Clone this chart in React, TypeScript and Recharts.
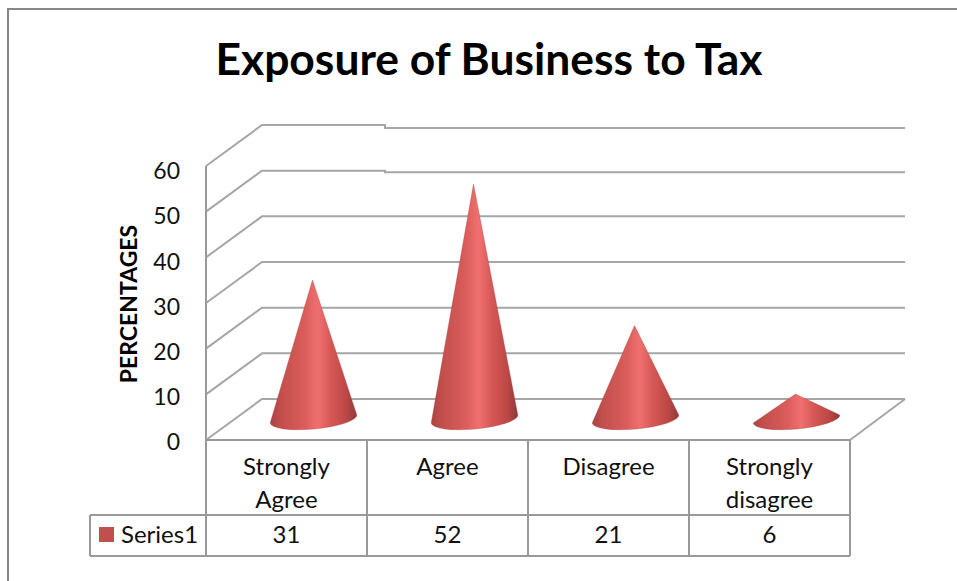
import React from 'react';
import { BarChart, Bar, XAxis, YAxis, CartesianGrid } from 'recharts';

const categories = ['Strongly Agree', 'Agree', 'Disagree', 'Strongly disagree'];
const values = [31, 52, 21, 6];
const yTicks = [0, 10, 20, 30, 40, 50, 60];
const titleText = 'Exposure of Business to Tax';
const yLabelText = 'PERCENTAGES';
const seriesName = 'Series1';

const FONT = 'Lato, "Open Sans", sans-serif';
const LINE = '#999999';
const GRID = '#a6a6a6';

const W = 957;
const H = 581;
const PLOT_LEFT = 206;
const PLOT_RIGHT = 850;
const PLOT_TOP = 166;
const PLOT_BOTTOM = 440;
// Depth of the 3D box: how far the back wall sits from the front plane.
const DEPTH_X = 56;
const DEPTH_Y = 41;
// Table rows under the plot.
const ROW_1 = 515;
const ROW_2 = 556;
const TABLE_LEFT = 90;
// The two upper back-wall lines drop slightly partway across.
const STEP_X = 385;

const rows = categories.map((name, i) => ({ name, value: values[i] }));

// One gridline: a slanted run along the side wall, then straight across the back wall.
function WallLine(props: any) {
  const { x1, x2, y1 } = props;
  const isFloor = Math.abs(y1 - PLOT_BOTTOM) < 1;
  const bx = x1 + DEPTH_X;
  const by = y1 - DEPTH_Y;
  const fromTop = Math.round((y1 - PLOT_TOP) / ((PLOT_BOTTOM - PLOT_TOP) / 6));
  const step = fromTop === 0 ? 3 : fromTop === 1 ? 1.5 : 0;
  return (
    <g>
      <path
        d={`M${x1} ${y1}L${bx} ${by}L${STEP_X} ${by}V${by + step}L${x2 + DEPTH_X - 1} ${by + step}`}
        fill="none"
        stroke={GRID}
        strokeWidth={2}
      />
      {isFloor && <path d={`M${x2} ${y1}L${x2 + DEPTH_X - 1} ${by}`} fill="none" stroke={GRID} strokeWidth={2} />}
    </g>
  );
}

// Value axis label; the text column runs slightly tighter than the axis itself.
function YTick(props: any) {
  const { x, y, payload } = props;
  return (
    <text x={x} y={y + 10 + (PLOT_BOTTOM - y) * 0.012} textAnchor="end" fontFamily={FONT} fontSize={23} fill="#111">
      {payload.value}
    </text>
  );
}

// Category cell of the data table, with the value row underneath it.
function TableTick(props: any) {
  const { x, payload, index } = props;
  const words = String(payload.value).split(' ');
  const half = (PLOT_RIGHT - PLOT_LEFT) / categories.length / 2;
  return (
    <g fontFamily={FONT} fontSize={24} fill="#111" textAnchor="middle">
      {words.map((w, i) => (
        <text key={w} x={x} y={475 + i * 33}>{w}</text>
      ))}
      <text x={x} y={543}>{values[index]}</text>
      <path d={`M${x + half} ${PLOT_BOTTOM}V${ROW_2}`} stroke={LINE} strokeWidth={2} fill="none" />
    </g>
  );
}

// Cone standing on the middle of the floor, tilted base, apex at the bar's value.
function Cone(props: any) {
  const { x, y, width } = props;
  const rx = width / 2;
  const ry = 10;
  const angle = -5.3;
  const rad = (angle * Math.PI) / 180;
  const cx = x + width / 2 + 27;
  const cy = PLOT_BOTTOM - 21;
  const dx = rx * Math.cos(rad);
  const dy = rx * Math.sin(rad);
  const d = `M${cx - 1} ${y - 18.5}L${cx - dx} ${cy - dy}A${rx} ${ry} ${angle} 0 0 ${cx + dx} ${cy + dy}Z`;
  return <path d={d} fill="url(#coneShade)" stroke="#a94442" strokeOpacity={0.35} strokeWidth={1} />;
}

export default function App() {
  return (
    <div style={{ position: 'absolute', left: 0, top: 0, width: W, height: H, background: '#fff' }}>
      <BarChart
        width={W}
        height={H}
        data={rows}
        margin={{ top: PLOT_TOP, right: W - PLOT_RIGHT, bottom: 0, left: 0 }}
        barSize={87}
      >
        <defs>
          <linearGradient id="coneShade" x1="0" y1="0" x2="1" y2="0">
            <stop offset="0%" stopColor="#a84445" />
            <stop offset="12%" stopColor="#c24f4c" />
            <stop offset="40%" stopColor="#da5d5b" />
            <stop offset="55%" stopColor="#f07070" />
            <stop offset="70%" stopColor="#d65856" />
            <stop offset="88%" stopColor="#bc4745" />
            <stop offset="100%" stopColor="#8c3a40" />
          </linearGradient>
        </defs>
        <path d={`M${W} 9H8V${H}`} fill="none" stroke="#888888" strokeWidth={2} />
        <text x={489} y={74.5} textAnchor="middle" fontFamily={FONT} fontWeight={700} fontSize={44.4} fill="#000">
          {titleText}
        </text>
        <text
          transform="translate(137 304) rotate(-90)"
          textAnchor="middle"
          fontFamily={FONT}
          fontWeight={700}
          fontSize={23}
          fill="#000"
        >
          {yLabelText}
        </text>
        <CartesianGrid vertical={false} horizontal={(p: any) => <WallLine {...p} />} />
        <YAxis
          width={PLOT_LEFT}
          domain={[0, 60]}
          ticks={yTicks}
          interval={0}
          tickLine={false}
          tickMargin={20}
          axisLine={{ stroke: LINE, strokeWidth: 2 }}
          tick={<YTick />}
        />
        <XAxis
          dataKey="name"
          height={H - PLOT_BOTTOM}
          interval={0}
          tickLine={false}
          axisLine={{ stroke: LINE, strokeWidth: 2 }}
          tick={<TableTick />}
        />
        <Bar dataKey="value" isAnimationActive={false} shape={<Cone />} />
        <path
          d={`M${TABLE_LEFT} ${ROW_1}H${PLOT_RIGHT}M${TABLE_LEFT} ${ROW_2}H${PLOT_RIGHT}M${TABLE_LEFT} ${ROW_1}V${ROW_2}M${PLOT_LEFT} ${PLOT_BOTTOM}V${ROW_2}`}
          fill="none"
          stroke={LINE}
          strokeWidth={2}
        />
        <rect x={99} y={527} width={15} height={15} fill="#c0504d" />
        <text x={121} y={543} fontFamily={FONT} fontSize={24} fill="#111">{seriesName}</text>
      </BarChart>
    </div>
  );
}
